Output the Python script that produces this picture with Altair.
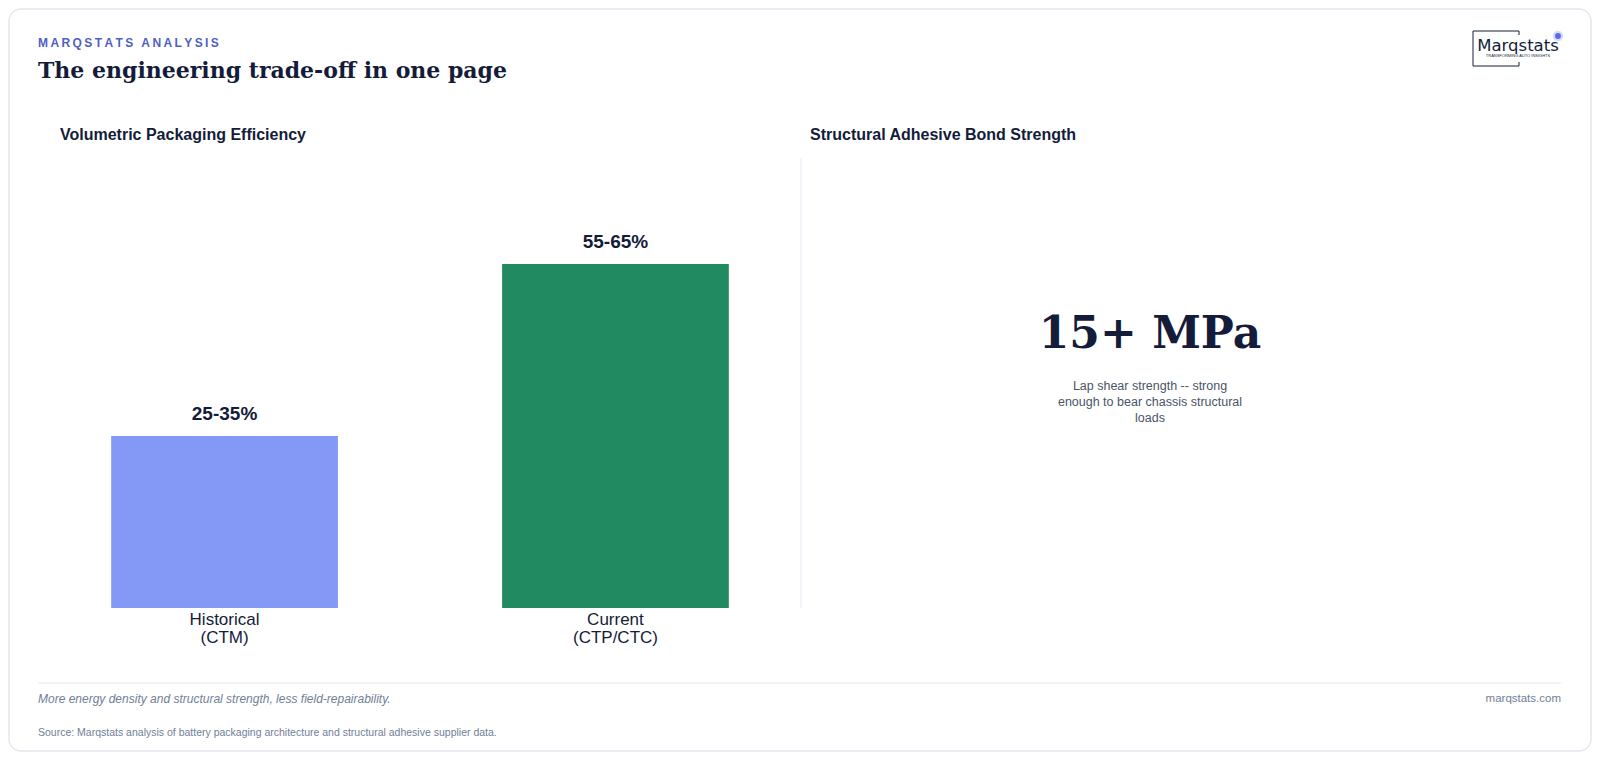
import altair as alt
import pandas as pd

# ---------------- data ----------------
categories = ["Historical (CTM)", "Current (CTP/CTC)"]
axis_labels = ["Historical\n(CTM)", "Current\n(CTP/CTC)"]
values = [30, 60]                      # midpoints of the quoted ranges
value_labels = ["25-35%", "55-65%"]
bar_colors = ["#8399F5", "#218A60"]

kicker = "MARQSTATS ANALYSIS"
title = "The engineering trade-off in one page"
left_title = "Volumetric Packaging Efficiency"
right_title = "Structural Adhesive Bond Strength"
big_stat = "15+ MPa"
stat_note = "Lap shear strength -- strong\nenough to bear chassis structural\nloads"
footnote = "More energy density and structural strength, less field-repairability."
site = "marqstats.com"
source = "Source: Marqstats analysis of battery packaging architecture and structural adhesive supplier data."
logo_name = "Marqstats"
logo_tag = "TRANSFORMING AUTO INSIGHTS"

df = pd.DataFrame({"cat": categories, "label": axis_labels, "value": values,
                   "vlabel": value_labels, "color": bar_colors})

# ---------------- styling ----------------
NAVY = "#141c3a"
GREY = "#718096"
LINE = "#e2e8f0"
SANS = "Liberation Sans"
SERIF = "DejaVu Serif"

x_scale = alt.Scale(domain=categories, range=[24, 798], paddingInner=0.42, paddingOuter=0.2)
y_scale = alt.Scale(domain=[0, 60], range=[599, 255], nice=False, zero=True)
X = alt.X("cat:N", scale=x_scale, axis=None, sort=categories)
Y = alt.Y("value:Q", scale=y_scale, axis=None)

bars = alt.Chart(df).mark_bar().encode(x=X, y=Y, color=alt.Color("color:N", scale=None))
bar_text = alt.Chart(df).mark_text(dy=-22, fontSize=19, fontWeight="bold", font=SANS, color=NAVY,
                                    baseline="middle").encode(x=X, y=Y, text="vlabel:N")
cat_text = alt.Chart(df).mark_text(fontSize=17, font=SANS, color=NAVY, baseline="top",
                                    lineBreak="\n", lineHeight=17.5).encode(
    x=X, y=alt.value(603), text="label:N")


def txt(s, x, y, **kw):
    return alt.Chart(pd.DataFrame({"t": [s]})).mark_text(**kw).encode(
        x=alt.value(x), y=alt.value(y), text="t:N")


def rule(x, x2, y, y2, color, width=1):
    return alt.Chart(pd.DataFrame({"a": [0]})).mark_rule(color=color, strokeWidth=width).encode(
        x=alt.value(x), x2=alt.value(x2), y=alt.value(y), y2=alt.value(y2))


spaced_kicker = "\u2009".join(list(kicker))

layers = [
    txt(spaced_kicker, 29, 34, fontSize=12, fontWeight="bold", font=SANS, color="#4f5fc2",
        align="left", baseline="middle"),
    txt(title, 29, 62, fontSize=22, fontWeight="bold", font=SERIF, color=NAVY,
        align="left", baseline="middle"),
    txt(left_title, 51, 126, fontSize=16, fontWeight="bold", font=SANS, color=NAVY,
        align="left", baseline="middle"),
    txt(right_title, 801, 126, fontSize=16, fontWeight="bold", font=SANS, color=NAVY,
        align="left", baseline="middle"),
    rule(792, 792, 149, 599, LINE),
    bars, bar_text, cat_text,
    txt(big_stat, 1141, 339, fontSize=44, fontWeight="bold", font=SERIF, color=NAVY,
        align="center", baseline="alphabetic"),
    txt(stat_note, 1141, 371, fontSize=12.5, font=SANS, color="#4a5568", align="center",
        baseline="top", lineBreak="\n", lineHeight=16),
    rule(29, 1552, 674, 674, LINE),
    txt(footnote, 29, 690, fontSize=12, fontStyle="italic", font=SANS, color=GREY,
        align="left", baseline="middle"),
    txt(site, 1552, 690, fontSize=11.5, font=SANS, color=GREY, align="right", baseline="middle"),
    txt(source, 29, 724, fontSize=10.5, font=SANS, color=GREY, align="left", baseline="middle"),
    # logo
    rule(1464, 1464, 22, 57, NAVY),
    rule(1464, 1510, 22, 22, NAVY),
    rule(1464, 1510, 57, 57, NAVY),
    rule(1510, 1510, 22, 26, NAVY),
    rule(1510, 1510, 53, 57, NAVY),
    txt(logo_name, 1509, 37, fontSize=16.5, fontWeight=500, font="DejaVu Sans", color=NAVY,
        align="center", baseline="middle"),
    txt(logo_tag, 1509, 47, fontSize=4, font=SANS, color=NAVY, align="center", baseline="middle"),
    alt.Chart(pd.DataFrame({"a": [0]})).mark_point(filled=True, size=110, color="#6272ea",
                                                    opacity=0.25).encode(
        x=alt.value(1549), y=alt.value(27)),
    alt.Chart(pd.DataFrame({"a": [0]})).mark_point(filled=True, size=35, color="#5a6ae8",
                                                    opacity=1).encode(
        x=alt.value(1549), y=alt.value(27)),
]

chart = alt.layer(*layers).properties(
    width=1582, height=742, padding=1, autosize="none", background="white"
).configure_view(stroke="#e2e8f0", strokeWidth=1.5, cornerRadius=12, fill="white")

chart.save("out.html", embed_options={"renderer": "svg", "actions": False})
